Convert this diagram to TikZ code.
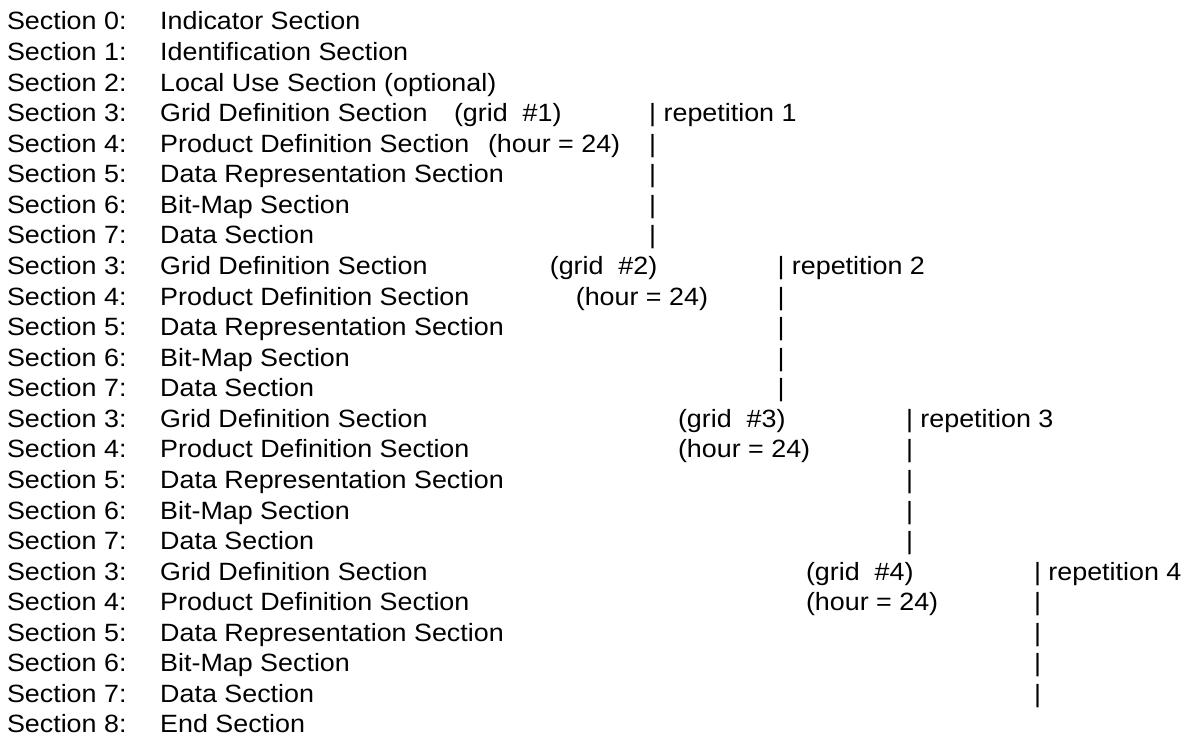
\documentclass[tikz,border=0pt]{standalone}
\usepackage{fontspec}
\setmainfont{Liberation Sans}
\newcommand\sx[1]{\scalebox{1.075}[1]{#1}}
\tikzset{txt/.style={anchor=base west, inner sep=0pt, outer sep=0pt, font=\fontsize{25}{30}\selectfont}}
\begin{document}
\begin{tikzpicture}[x=1pt,y=1pt]
\useasboundingbox (0,0) rectangle (1186,738);
\def\rowy#1{708-30.565*#1}
% left columns
\foreach \i/\n/\t in {0/0/Indicator Section, 1/1/Identification Section, 2/2/Local Use Section (optional),
  3/3/Grid Definition Section, 4/4/Product Definition Section, 5/5/Data Representation Section, 6/6/Bit-Map Section, 7/7/Data Section,
  8/3/Grid Definition Section, 9/4/Product Definition Section, 10/5/Data Representation Section, 11/6/Bit-Map Section, 12/7/Data Section,
  13/3/Grid Definition Section, 14/4/Product Definition Section, 15/5/Data Representation Section, 16/6/Bit-Map Section, 17/7/Data Section,
  18/3/Grid Definition Section, 19/4/Product Definition Section, 20/5/Data Representation Section, 21/6/Bit-Map Section, 22/7/Data Section,
  23/8/End Section} {
  \node[txt] (a\i) at (7, {708-30.565*\i}) {\sx{Section \n:}};
  \node[txt] (b\i) at (160.2, {708-30.565*\i}) {\sx{\t}};
}
% grid / hour annotations
\foreach \k/\gx/\hx/\r in {1/454/488/3, 2/549.8/575.8/8, 3/678/678/13, 4/806/806/18} {
  \node[txt] (g\k) at (\gx, {708-30.565*\r}) {\sx{(grid\ \ \#\k)}};
  \node[txt] (h\k) at (\hx, {708-30.565*(\r+1)}) {\sx{(hour = 24)}};
}
% repetition bars
\foreach \k/\bx/\r in {1/649.2/3, 2/777.5/8, 3/906/13, 4/1034/18} {
  \node[txt] (r\k) at (\bx, {708-30.565*\r}) {\sx{| repetition \k}};
  \foreach \j in {1,...,4} {
    \node[txt] (bar\k-\j) at (\bx, {708-30.565*(\r+\j)}) {\sx{|}};
  }
}
\end{tikzpicture}
\end{document}
